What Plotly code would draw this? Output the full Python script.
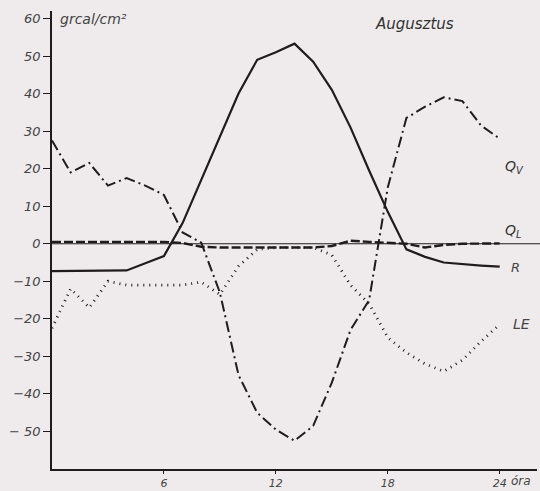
import plotly.graph_objects as go

hours = list(range(0, 25))
R  = [-7.3, -7.3, -7.2, -7.2, -7.1, -5.2, -3.3, 5.5, 17, 28, 40, 49, 51, 53.3, 48.5, 41, 31, 19.5, 8.5, -1.5, -3.5, -5, -5.5, -5.8, -6.1]
QV = [27.5, 19, 21.5, 15.5, 17.5, 15.5, 13, 3, 0.3, -13, -35, -45, -49.5, -52.5, -48.5, -37, -23, -15, 15, 33.5, 36.5, 39, 38, 31.5, 28]
QL = [0.5, 0.5, 0.6, 0.6, 0.6, 0.6, 0.5, 0.2, -0.8, -1, -1, -1, -1, -1, -1, -0.6, 0.8, 0.5, 0.3, 0, -1, -0.3, 0, 0.1, 0.1]
LE = [-22.5, -12, -17, -10, -11, -11, -11, -11, -10.2, -13.5, -6, -1.5, -1, -1, -1, -3, -11, -16, -25, -29, -32, -34, -31, -26, -21.5]

y_ticks = [-50, -40, -30, -20, -10, 0, 10, 20, 30, 40, 50, 60]
y_ticktext = ["\u2212 50", "\u221240", "\u221230", "\u221220", "\u221210", "0", "10", "20", "30", "40", "50", "60"]
x_ticks = [6, 12, 18, 24]
x_ticktext = ["6", "12", "18", "24"]

ink = "#1f1c1d"
bg = "#efebec"
font_fam = "DejaVu Sans, sans-serif"

fig = go.Figure()
fig.add_trace(go.Scatter(x=hours, y=R, mode="lines", line=dict(color=ink, width=2.2), name="R"))
fig.add_trace(go.Scatter(x=hours, y=QV, mode="lines", line=dict(color=ink, width=2, dash="11px,4px,2px,4px"), name="QV"))
fig.add_trace(go.Scatter(x=hours, y=QL, mode="lines", line=dict(color=ink, width=2.4, dash="9px,3px"), name="QL"))
fig.add_trace(go.Scatter(x=hours, y=LE, mode="lines", line=dict(color=ink, width=2.8, dash="1px,5px"), name="LE"))

# zero reference line across the whole plot width
fig.add_shape(type="line", xref="paper", x0=0, x1=1.01, yref="y", y0=0, y1=0,
              line=dict(color=ink, width=1.2))

fig.update_layout(
    width=540, height=491,
    margin=dict(l=52, r=3, t=11, b=22),
    paper_bgcolor=bg, plot_bgcolor=bg,
    showlegend=False,
    font=dict(family=font_fam, color="#333", size=12),
    xaxis=dict(range=[0, 26], showgrid=False, zeroline=False,
               showline=True, linecolor=ink, linewidth=1.5, automargin=False,
               tickvals=x_ticks, ticktext=x_ticktext, ticks="outside", ticklen=3,
               tickcolor=ink, tickfont=dict(size=11, style="italic", color="#444")),
    yaxis=dict(range=[-60, 62], showgrid=False, zeroline=False,
               showline=True, linecolor=ink, linewidth=1.5, automargin=False,
               tickvals=y_ticks, ticktext=y_ticktext, ticks="outside", ticklen=7,
               tickcolor=ink, tickfont=dict(size=13, style="italic", color="#444")),
    annotations=[
        dict(x=24.5, y=0, xref="x", yref="paper", text="<i>óra</i>", showarrow=False,
             xanchor="left", yanchor="top", yshift=-3, font=dict(size=12, color="#444")),
        dict(x=0.3, y=60, xref="x", yref="y", text="<i>grcal/cm²</i>", showarrow=False,
             xanchor="left", yanchor="middle", font=dict(size=14, color="#444")),
        dict(x=17.2, y=58.5, xref="x", yref="y", text="<i>Augusztus</i>", showarrow=False,
             xanchor="left", yanchor="middle", font=dict(size=15, color="#333")),
        dict(x=24.2, y=20.5, xref="x", yref="y", text="<i>Q<sub>V</sub></i>", showarrow=False,
             xanchor="left", yanchor="middle", font=dict(size=14, color="#333")),
        dict(x=24.2, y=3.5, xref="x", yref="y", text="<i>Q<sub>L</sub></i>", showarrow=False,
             xanchor="left", yanchor="middle", font=dict(size=14, color="#333")),
        dict(x=24.5, y=-6.2, xref="x", yref="y", text="<i>R</i>", showarrow=False,
             xanchor="left", yanchor="middle", font=dict(size=13, color="#444")),
        dict(x=24.6, y=-21.5, xref="x", yref="y", text="<i>LE</i>", showarrow=False,
             xanchor="left", yanchor="middle", font=dict(size=14, color="#444")),
    ],
)

fig.write_html("out.html")
